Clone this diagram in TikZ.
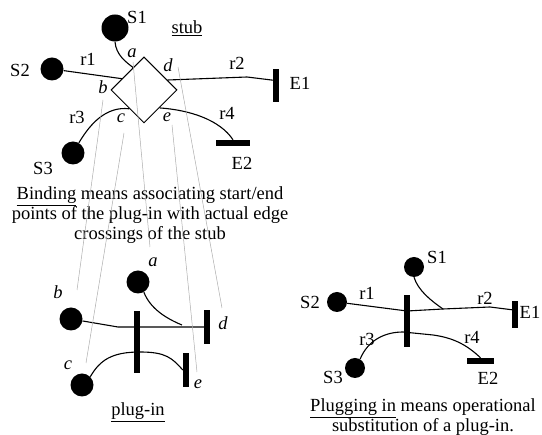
\documentclass[tikz,border=0pt]{standalone}
\usepackage{fontspec}
\setmainfont{Liberation Serif}
\usetikzlibrary{positioning,calc,shapes.geometric}

\begin{document}
\begin{tikzpicture}[
  x=1pt, y=-1pt,
  font=\fontsize{18.5}{20}\selectfont,
  wire/.style={line width=1.1pt, draw=black},
  bind/.style={line width=0.5pt, draw=gray!65},
  dot/.style={circle, fill=black, inner sep=0pt, minimum size=#1},
  dot/.default=23pt,
  vbar/.style={fill=black, inner sep=0pt, minimum width=6pt, minimum height=#1},
  hbar/.style={fill=black, inner sep=0pt, minimum height=6pt, minimum width=#1},
  stubbox/.style={draw=black, line width=1pt, diamond, aspect=1, inner sep=0pt, minimum width=66pt, minimum height=66pt},
  lbl/.style={inner sep=1pt},
  cross/.style={inner sep=1pt, font=\fontsize{18.5}{20}\selectfont\itshape},
  caption/.style={align=center, inner sep=0pt}
]
\useasboundingbox (0,0) rectangle (542,435);

% ========== TOP: stub with its paths ==========
\node[stubbox] (stub) at (144,90) {};
\node[dot=27pt] (s1) at (115,28) {};
\node[dot] (s2) at (52,69) {};
\node[dot] (s3) at (73,153) {};
\node[vbar=33pt] (e1) at (276,85.5) {};
\node[hbar=34pt] (e2) at (233,143) {};

\node[lbl] (s1l) at (137,17) {S1};
\node[lbl] (s2l) at (20,70) {S2};
\node[lbl] (s3l) at (43,168) {S3};
\node[lbl] (e1l) at (300,83) {E1};
\node[lbl] (e2l) at (242,163) {E2};
\node[lbl] (r1l) at (88,59) {r1};
\node[lbl] (r2l) at (237,63) {r2};
\node[lbl] (r3l) at (77,117) {r3};
\node[lbl] (r4l) at (227,113) {r4};
\node[lbl] (stubl) at (187,28) {\underline{stub}};

\node[cross] (sa) at (132,53) {a};
\node[cross] (sb) at (103,87) {b};
\node[cross] (sc) at (121,118) {c};
\node[cross] (sd) at (168,65) {d};
\node[cross] (se) at (167,117) {e};

% ===== stub paths =====
\draw[wire] (s1.south) .. controls (116,55) and (126,62) .. (stub.116);
\draw[wire] (s2) -- (stub.153);
\draw[wire] (stub.23) -- (247,77) -- (e1.121);
\draw[wire] (s3.60) .. controls (90,124) and (106,106) .. (stub.232);
\draw[wire] (stub.311) .. controls (190,110) and (220,120) .. (e2.north);

% ========== Binding note ==========
\node[caption] (bindnote) at (150,215)
{\underline{Binding} means associating start/end\\
points of the plug-in with actual edge\\
crossings of the stub};

% ========== BOTTOM LEFT: plug-in ==========
\node[dot] (pa) at (138,282) {};
\node[dot] (pb) at (71,319) {};
\node[dot] (pc) at (82,385) {};
\node[vbar=34pt] (pd) at (207,327) {};
\node[vbar=34pt] (pe) at (186,370) {};
\coordinate (pj) at (182,325);

\node[cross] (pal) at (153,262) {a};
\node[cross] (pbl) at (58,292) {b};
\node[cross] (pcl) at (68,365) {c};
\node[cross] (pdl) at (223,323) {d};
\node[cross] (pel) at (198,384) {e};
\node[lbl] (plugl) at (138,412) {\underline{plug-in}};

% ===== plug-in paths =====
\draw[wire] (pb) -- (118,327) -- (pd.west);
\draw[wire] (pa.300) .. controls (150,308) and (165,318) .. (pj);
\draw[wire] (pc.45) .. controls (100,360) and (112,352) .. (140,352)
  .. controls (166,352) and (172,358) .. (pe.west);
\node[vbar=62pt] (pm) at (137,342) {};

% ===== binding lines (stub crossing -> plug-in end) =====
\coordinate (ga1) at (133,62);  \coordinate (ga2) at (150,247);
\coordinate (gb1) at (103,100); \coordinate (gb2) at (77,290);
\coordinate (gc1) at (124,133); \coordinate (gc2) at (86,363);
\coordinate (gd1) at (178,67);  \coordinate (gd2) at (222,308);
\coordinate (ge1) at (172,125); \coordinate (ge2) at (197,372);
\foreach \k in {a,b,c,d,e}
  \draw[bind] (g\k1) -- (g\k2);

% ========== RIGHT: stub after plugging in ==========
\node[dot=20pt] (rs1) at (414,267) {};
\node[dot=20pt] (rs2) at (337,302) {};
\node[dot=20pt] (rs3) at (355,368) {};
\node[vbar=27pt] (re1) at (515,314.5) {};
\node[hbar=27pt] (re2) at (480.5,361) {};
\coordinate (rj) at (443,309);

\node[lbl] (rs1l) at (437,257) {S1};
\node[lbl] (rs2l) at (310,302) {S2};
\node[lbl] (rs3l) at (333,377) {S3};
\node[lbl] (re1l) at (530,312) {E1};
\node[lbl] (re2l) at (488,378) {E2};
\node[lbl] (rr1l) at (367,293) {r1};
\node[lbl] (rr2l) at (485,298) {r2};
\node[lbl] (rr3l) at (367,339) {r3};
\node[lbl] (rr4l) at (472,337) {r4};

% ===== merged paths =====
\draw[wire] (rs2) -- (407,311) -- (rj) -- (490,307) -- (re1.124);
\draw[wire] (rs1.south) .. controls (418,290) and (430,300) .. (rj);
\draw[wire] (rs3.60) .. controls (368,340) and (385,332) .. (403,332) -- (433,335)
  .. controls (455,338) and (468,346) .. (re2.north);
\node[vbar=52pt] (rm) at (407,321) {};

\node[caption] (plugnote) at (423,417)
{\underline{Plugging in} means operational\\
substitution of a plug-in.};

\end{tikzpicture}
\end{document}
